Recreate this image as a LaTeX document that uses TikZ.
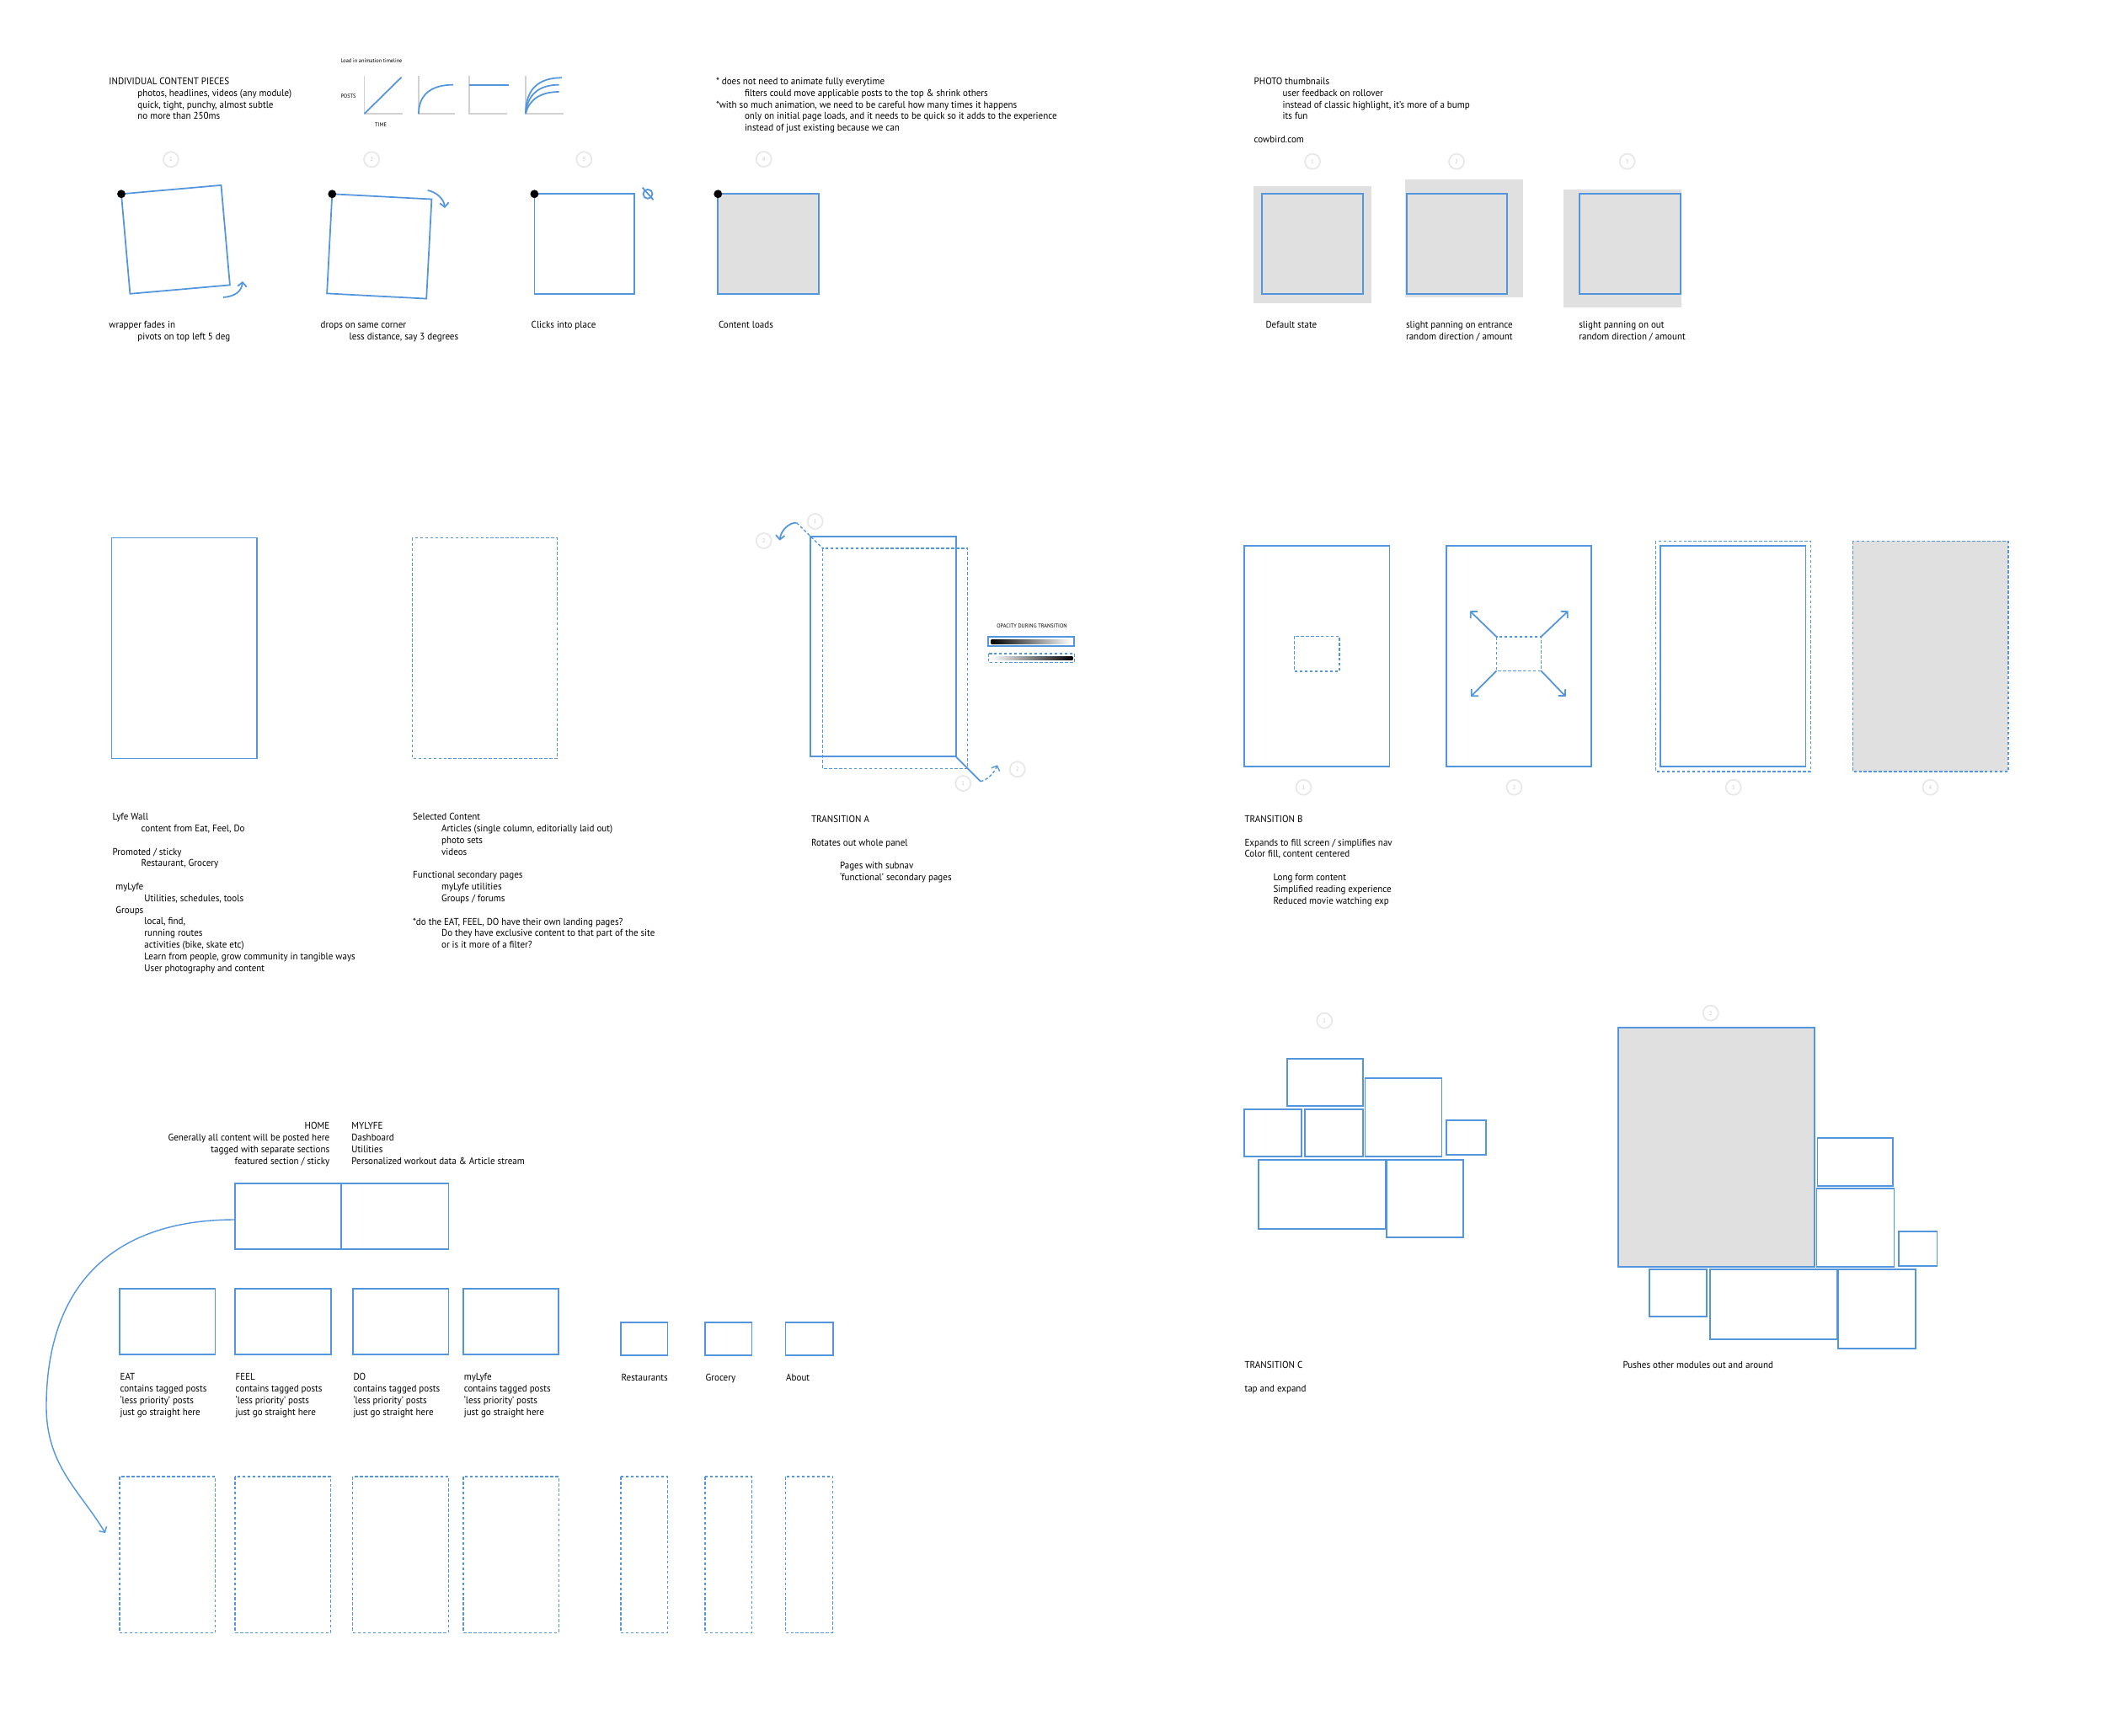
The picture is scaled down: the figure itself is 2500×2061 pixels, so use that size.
\documentclass[tikz,border=0pt]{standalone}
\usepackage{fontspec}
\setmainfont{PT Sans}[FakeStretch=0.95]
\usetikzlibrary{arrows.meta}
\definecolor{azul}{RGB}{84,150,222}
\definecolor{cinza}{RGB}{224,224,224}
\newcommand\tb{\hspace*{0.34cm}}
\begin{document}
\begin{tikzpicture}[x=0.01cm,y=-0.01cm]
\tikzstyle{panel}=[draw=azul, line width=0.5pt]
\tikzstyle{ghost}=[draw=azul, line width=0.38pt, dash pattern=on 1pt off 0.7pt]
\tikzstyle{pin}=[circle, minimum size=2.8pt, inner sep=0, fill=black]
\tikzstyle{stepmark}=[circle, draw=black!9, line width=0.5pt, minimum size=0.18cm, inner sep=0, text=black!20, font=\fontsize{2}{2}\selectfont]
\tikzstyle{note}=[anchor=north west, inner sep=0, align=left, font=\fontsize{3.3}{3.93}\selectfont]
\tikzstyle{tiny}=[inner sep=0, font=\fontsize{1.9}{2.2}\selectfont]
\tikzstyle{curl}=[draw=azul, line width=0.5pt, -{Straight Barb[length=1.4pt,width=3pt]}]
\tikzstyle{spread}=[draw=azul, line width=0.5pt, -{Straight Barb[length=1.6pt,width=3.3pt]}]
\tikzstyle{axis}=[draw=black!18, line width=0.3pt]
\useasboundingbox[fill=white] (0,0) rectangle (2500,2061);
\node[note] (pieces) at (128.7,91.4) {INDIVIDUAL CONTENT PIECES\\\tb photos, headlines, videos (any module)\\\tb quick, tight, punchy, almost subtle\\\tb no more than 250ms};
\node[tiny, anchor=west] (timeline) at (403.8,71.7) {Load in animation timeline};
\node[tiny, anchor=west] (posts) at (403.8,114.3) {POSTS};
\node[tiny, anchor=west] (time) at (444.5,148.3) {TIME};
\draw[axis] (432.5,90)--(432.5,135)--(478,135);
\draw[axis] (497,90)--(497,135)--(540,135);
\draw[axis] (557,90)--(557,135)--(602,135);
\draw[axis] (624,90)--(624,135)--(669,135);
\draw[panel] (432.5,135)--(476.6,91.7);
\draw[panel] (497,135) .. controls (497,110) and (515,100.7) .. (537.8,100.7);
\draw[panel] (557,100.7)--(604,100.7);
\draw[panel] (624,135) .. controls (624,105) and (640,92.3) .. (667,92.3);
\draw[panel] (624,135) .. controls (626,112) and (640,100.7) .. (663.6,100.7);
\draw[panel] (624,135) .. controls (628,118) and (642,109) .. (663.6,109);
\node[note] (caveat) at (849.3,91.4) {* does not need to animate fully everytime\\\tb filters could move applicable posts to the top \& shrink others\\*with so much animation, we need to be careful how many times it happens\\\tb only on initial page loads, and it needs to be quick so it adds to the experience\\\tb instead of just existing because we can};
\node[note] (thumbs) at (1488,91.4) {PHOTO thumbnails\\\tb user feedback on rollover\\\tb instead of classic highlight, it's more of a bump\\\tb its fun\\[3.93pt]cowbird.com};
\foreach \x/\y/\n/\k in {202.9/189.3/1/a,441.1/189.3/2/b,693.3/189.3/3/c,906.7/189/4/d,1558/191.7/1/e,1729/191.7/2/f,1931.7/191.7/3/g,967.7/619/1/h,906.7/642/2/i,1143.3/930/1/j,1207.7/913.3/2/k,1547.5/934.7/1/l,1797.5/934.7/2/m,2057.7/934.7/3/n,2291.5/934.7/4/o,1572.2/1211.7/1/p,2030.7/1202.7/2/q}
  \node[stepmark] (step\k) at (\x,\y) {\n};
\draw[panel] (144,230.3)--(262.5,219.9)--(272.9,338.4)--(154.4,348.8)--cycle;
\draw[panel] (394.3,230.3)--(512.4,236.5)--(506.2,354.6)--(388.1,348.4)--cycle;
\draw[panel] (634.4,230.3) rectangle (753,349);
\draw[panel, fill=cinza] (852.3,230.3) rectangle (971.7,349.3);
\node[pin] (pin1) at (144,230.3) {};
\node[pin] (pin2) at (394.3,230.3) {};
\node[pin] (pin3) at (634.4,230.3) {};
\node[pin] (pin4) at (852.3,230.3) {};
\draw[curl] (265,353) .. controls (280,352) and (287,345) .. (288,334);
\draw[curl] (507.7,226) .. controls (518,228) and (527,236) .. (528,247);
\draw[panel] (769,230.3) circle (5.5);
\draw[panel] (762.7,222.7)--(775.6,237.3);
\node[note] (cap1) at (128.7,380.7) {wrapper fades in\\\tb pivots on top left 5 deg};
\node[note] (cap2) at (380,380.7) {drops on same corner\\\tb less distance, say 3 degrees};
\node[note] (cap3) at (630,380.7) {Clicks into place};
\node[note] (cap4) at (852.3,380.7) {Content loads};
\fill[cinza] (1488.1,220.7) rectangle (1627.6,360);
\draw[panel] (1498.1,230.3) rectangle (1617.6,349.3);
\fill[cinza] (1668.3,213.3) rectangle (1807.8,352.7);
\draw[panel] (1669.8,230.3) rectangle (1788.9,349.3);
\fill[cinza] (1856.2,225.3) rectangle (1995.7,365);
\draw[panel] (1875.1,230.3) rectangle (1994.6,349.3);
\node[note] (cap5) at (1501.8,380.7) {Default state};
\node[note] (cap6) at (1668.3,380.7) {slight panning on entrance\\random direction / amount};
\node[note] (cap7) at (1873.6,380.7) {slight panning on out\\random direction / amount};
\draw[panel] (132.6,638.6) rectangle (304.8,900.4);
\draw[ghost] (489.4,638.6) rectangle (661.5,900.4);
\node[note] (wall) at (133,964.7) {Lyfe Wall\\\tb content from Eat, Feel, Do\\[3.93pt]Promoted / sticky\\\tb Restaurant, Grocery\\[3.93pt]\hspace*{0.037cm}myLyfe\\\hspace*{0.377cm}Utilities, schedules, tools\\\hspace*{0.037cm}Groups\\\hspace*{0.377cm}local, find,\\\hspace*{0.377cm}running routes\\\hspace*{0.377cm}activities (bike, skate etc)\\\hspace*{0.377cm}Learn from people, grow community in tangible ways\\\hspace*{0.377cm}User photography and content};
\node[note] (selected) at (489.4,964.7) {Selected Content\\\tb Articles (single column, editorially laid out)\\\tb photo sets\\\tb videos\\[3.93pt]Functional secondary pages\\\tb myLyfe utilities\\\tb Groups / forums\\[3.93pt]*do the EAT, FEEL, DO have their own landing pages?\\\tb Do they have exclusive content to that part of the site\\\tb or is it more of a filter?};
\draw[panel] (962.3,637) rectangle (1134.7,898.3);
\draw[ghost] (976.7,651) rectangle (1148.7,912.7);
\draw[ghost] (945.7,620.7)--(976.7,651);
\draw[curl] (945.7,620.7) .. controls (936.7,620) and (926.7,630) .. (925.7,641.7);
\draw[panel] (1134.7,898.3)--(1164,927.7);
\draw[ghost, -{Straight Barb[length=1.4pt,width=3pt]}] (1164,927.7) .. controls (1172,926) and (1180,918) .. (1184,908.3);
\node[tiny] (opacity) at (1225,743.3) {OPACITY DURING TRANSITION};
\draw[panel] (1173.3,755.7) rectangle (1275.3,767.3);
\shade[left color=black, right color=white] (1176.7,759.3) rectangle (1271.7,764);
\draw[ghost] (1173.3,776) rectangle (1275.3,786.7);
\shade[left color=white, right color=black] (1176.7,779) rectangle (1273.3,783.3);
\node[note] (transA) at (962.3,967.4) {TRANSITION A\\[3.93pt]Rotates out whole panel\\[3.93pt]\tb Pages with subnav\\\tb `functional' secondary pages};
\draw[panel] (1476.8,648.3) rectangle (1649.4,910);
\draw[ghost] (1536.7,755.3) rectangle (1590.1,797);
\draw[panel] (1716.6,648.3) rectangle (1888.7,910);
\draw[ghost] (1776.5,756) rectangle (1829.3,796.3);
\draw[spread] (1776.5,756)--(1744.8,725.3);
\draw[spread] (1829.3,756)--(1861.7,725.3);
\draw[spread] (1776.5,796.3)--(1746,827);
\draw[spread] (1829.3,796.3)--(1858.7,827);
\draw[panel] (1970.8,648.3) rectangle (2143.5,910);
\draw[ghost] (1965.4,642.3) rectangle (2149.4,916);
\draw[ghost, fill=cinza] (2199.2,642.3) rectangle (2383.9,916);
\node[note] (transB) at (1476.8,967.4) {TRANSITION B\\[3.93pt]Expands to fill screen / simplifies nav\\Color fill, content centered\\[3.93pt]\tb Long form content\\\tb Simplified reading experience\\\tb Reduced movie watching exp};
\draw[panel] (1527.9,1257.3) rectangle (1617.7,1313.3);
\draw[panel] (1476.8,1317.3) rectangle (1545.3,1373.3);
\draw[panel] (1549.2,1317.3) rectangle (1618.2,1373.3);
\draw[panel] (1620.5,1280) rectangle (1711.4,1373.3);
\draw[panel] (1717,1330.3) rectangle (1763.6,1371.3);
\draw[panel] (1494.2,1376.7) rectangle (1644.6,1459);
\draw[panel] (1645.7,1376.7) rectangle (1737.2,1469.3);
\draw[panel, fill=cinza] (1920.7,1220.3) rectangle (2154.2,1504.3);
\draw[panel] (2157.5,1351.3) rectangle (2247.3,1407.7);
\draw[panel] (2156.4,1411.3) rectangle (2248.4,1504.3);
\draw[panel] (2254,1461.7) rectangle (2299.5,1503);
\draw[panel] (1958.3,1507.3) rectangle (2026.2,1563.3);
\draw[panel] (2030.1,1507.3) rectangle (2180.5,1590.3);
\draw[panel] (2182.2,1507.3) rectangle (2273.7,1600.7);
\node[note] (transC) at (1476.8,1615.7) {TRANSITION C\\[3.93pt]tap and expand};
\node[note] (pushes) at (1925.8,1615.7) {Pushes other modules out and around};
\node[note, anchor=north east, align=right] (homenote) at (391.9,1332) {HOME\\Generally all content will be posted here\\tagged with separate sections\\featured section / sticky};
\node[note] (mylyfenote) at (416.7,1332) {MYLYFE\\Dashboard\\Utilities\\Personalized workout data \& Article stream};
\draw[panel] (279,1404.7) rectangle (405.3,1482.7);
\draw[panel] (405.3,1404.7) rectangle (532.4,1482.7);
\foreach \a/\b/\t in {141.9/255.5/EAT,279/392.7/FEEL,418.8/532.4/DO,550.1/663.3/myLyfe}{
  \draw[panel] (\a,1530.3) rectangle (\b,1608.3);
  \draw[ghost] (\a,1753) rectangle (\b,1938.3);
  \node[note] (lab\t) at (\a,1630) {\t\\contains tagged posts\\`less priority' posts\\just go straight here};
}
\foreach \a/\b/\t in {736.9/792.5/Restaurants,836.9/892.5/Grocery,932.5/988.8/About}{
  \draw[panel] (\a,1570.3) rectangle (\b,1609.3);
  \draw[ghost] (\a,1753) rectangle (\b,1938.3);
  \node[note] (lab\t) at (\a,1630.7) {\t};
}
\coordinate (homeW) at (279,1448);
\coordinate (eatIn) at (125,1820);
\draw[curl, line width=0.4pt] (homeW) .. controls (130,1448) and (55,1530) .. (55,1670) .. controls (55,1740) and (95,1770) .. (eatIn);
\end{tikzpicture}
\end{document}
